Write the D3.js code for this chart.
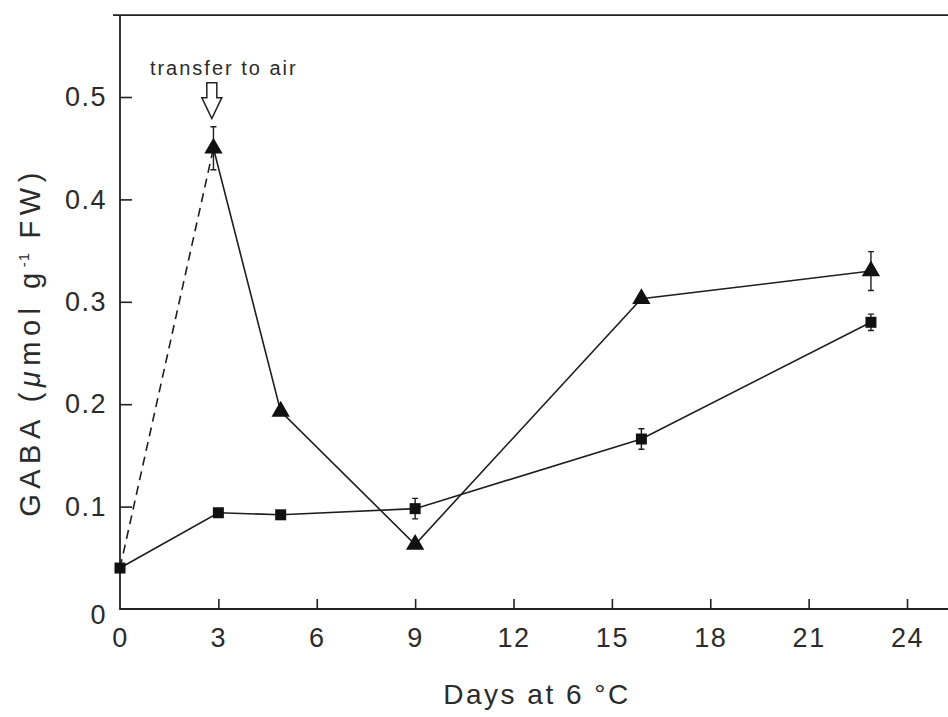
<!DOCTYPE html>
<meta charset="utf-8">
<style>
    body {
        margin: 0;
        background: #fff;
    }

    svg {
        display: block;
        font-family: "Liberation Sans", Arial, sans-serif;
    }

    .axis text {
        font-size: 27px;
        fill: #2b2b2b;
        letter-spacing: 1.5px;
    }

    .axis line {
        stroke: #222;
        stroke-width: 1.6px;
    }

    .frame {
        stroke: #222;
        stroke-width: 1.8px;
        fill: none;
    }

    .series {
        stroke: #1e1e1e;
        stroke-width: 1.6px;
        fill: none;
    }
</style>

<body>
    <script src="https://d3js.org/d3.v7.min.js"></script>
    <script>
        // GABA levels, triangles (transferred to air) and squares
        var triDays = [2.85, 4.9, 9.0, 15.9, 22.9];
        var triVals = [0.45, 0.193, 0.063, 0.303, 0.33];
        var triErr = [0.021, 0, 0, 0, 0.019];

        var sqDays = [0, 3, 4.9, 9.0, 15.9, 22.9];
        var sqVals = [0.04, 0.094, 0.092, 0.098, 0.166, 0.28];
        var sqErr = [0, 0, 0, 0.01, 0.01, 0.008];

        var xTicks = [0, 3, 6, 9, 12, 15, 18, 21, 24];
        var yTicks = [0, 0.1, 0.2, 0.3, 0.4, 0.5];

        var arrowDay = 2.8;

        var width = 948,
            height = 717;

        var svg = d3.select("body").append("svg")
            .attr("width", width)
            .attr("height", height);

        // Scales
        var x = d3.scaleLinear()
            .domain([0, 25.25])
            .range([120, 948]);
        var y = d3.scaleLinear()
            .domain([0, 0.5])
            .range([609, 97]);
        var yTop = 0.58;

        // Frame: left, top, bottom lines (right edge cut off in the figure)
        svg.append("path")
            .attr("class", "frame")
            .attr("d", "M" + (x(0) - 7) + "," + y(yTop) + "H" + x(25.25) +
                "M" + x(0) + "," + y(yTop) + "V" + y(0) + "H" + x(25.25));

        // Axes, ticks pointing inwards
        svg.append("g")
            .attr("class", "axis")
            .attr("transform", "translate(0," + y(0) + ")")
            .call(d3.axisBottom(x).tickValues(xTicks).tickSize(-10).tickPadding(19))
            .call(function (g) { g.select(".domain").remove(); })
            .call(function (g) { g.selectAll(".tick line").filter(function (d) { return d === 0; }).remove(); });

        svg.append("g")
            .attr("class", "axis")
            .attr("transform", "translate(" + x(0) + ",0)")
            .call(d3.axisLeft(y).tickValues(yTicks).tickSize(-12).tickPadding(13)
                .tickFormat(function (d) { return d === 0 ? "0" : d3.format(".1f")(d); }))
            .call(function (g) { g.select(".domain").remove(); })
            .call(function (g) { g.selectAll(".tick line").filter(function (d) { return d === 0; }).remove(); })
            .call(function (g) { g.selectAll(".tick text").filter(function (d) { return d === 0; }).attr("dy", "0.55em"); });

        // Axis titles
        svg.append("text")
            .attr("x", 537)
            .attr("y", 704)
            .attr("text-anchor", "middle")
            .style("font-size", "28px")
            .style("letter-spacing", "2.5px")
            .style("fill", "#2b2b2b")
            .text("Days at 6\u00a0°C");

        var yTitle = svg.append("text")
            .attr("transform", "translate(40,342) rotate(-90)")
            .attr("text-anchor", "middle")
            .style("font-size", "29px")
            .style("letter-spacing", "5.5px")
            .style("fill", "#2b2b2b");
        yTitle.append("tspan").text("GABA (");
        yTitle.append("tspan").style("font-style", "italic").text("μ");
        yTitle.append("tspan").text("mol g");
        yTitle.append("tspan").attr("dy", -11).style("font-size", "15px").style("letter-spacing", "1px").text("-1");
        yTitle.append("tspan").attr("dy", 11).text(" FW)");

        // Dashed line from day 0 to the first triangle
        svg.append("line")
            .attr("class", "series")
            .attr("x1", x(sqDays[0])).attr("y1", y(sqVals[0]))
            .attr("x2", x(triDays[0])).attr("y2", y(triVals[0]))
            .style("stroke-dasharray", "9,6");

        var tri = triDays.map(function (d, i) { return { x: d, y: triVals[i], e: triErr[i] }; });
        var sq = sqDays.map(function (d, i) { return { x: d, y: sqVals[i], e: sqErr[i] }; });

        var line = d3.line()
            .x(function (d) { return x(d.x); })
            .y(function (d) { return y(d.y); });

        svg.append("path").attr("class", "series").attr("d", line(tri));
        svg.append("path").attr("class", "series").attr("d", line(sq));

        // Error bars
        function errorBars(data) {
            var g = svg.append("g").attr("class", "series").style("stroke-width", "1.4px");
            data.filter(function (d) { return d.e > 0; }).forEach(function (d) {
                var cx = x(d.x), t = y(d.y + d.e), b = y(d.y - d.e);
                g.append("path").attr("d", "M" + cx + "," + t + "V" + b +
                    "M" + (cx - 3) + "," + t + "H" + (cx + 3) +
                    "M" + (cx - 3) + "," + b + "H" + (cx + 3));
            });
        }
        errorBars(tri);
        errorBars(sq);

        // Markers
        svg.append("g").selectAll("path")
            .data(tri)
            .enter().append("path")
            .attr("transform", function (d) { return "translate(" + x(d.x) + "," + y(d.y) + ")"; })
            .attr("d", d3.symbol().type(d3.symbolTriangle).size(145))
            .style("fill", "#111");

        svg.append("g").selectAll("rect")
            .data(sq)
            .enter().append("rect")
            .attr("x", function (d) { return x(d.x) - 5.5; })
            .attr("y", function (d) { return y(d.y) - 5.5; })
            .attr("width", 11)
            .attr("height", 11)
            .style("fill", "#111");

        // "transfer to air" annotation with open arrow
        var ax = x(arrowDay), aTop = y(0.514), aBot = y(0.479);
        svg.append("path")
            .attr("d", "M" + (ax - 5) + "," + aTop + "V" + (aTop + 15) + "H" + (ax - 10) +
                "L" + ax + "," + aBot + "L" + (ax + 10) + "," + (aTop + 15) + "H" + (ax + 5) +
                "V" + aTop + "Z")
            .style("fill", "#fff")
            .style("stroke", "#222")
            .style("stroke-width", "1.5px");

        svg.append("text")
            .attr("x", ax + 12)
            .attr("y", 75)
            .attr("text-anchor", "middle")
            .style("font-size", "20px")
            .style("letter-spacing", "2px")
            .style("fill", "#2b2b2b")
            .text("transfer to air");
    </script>
</body>
